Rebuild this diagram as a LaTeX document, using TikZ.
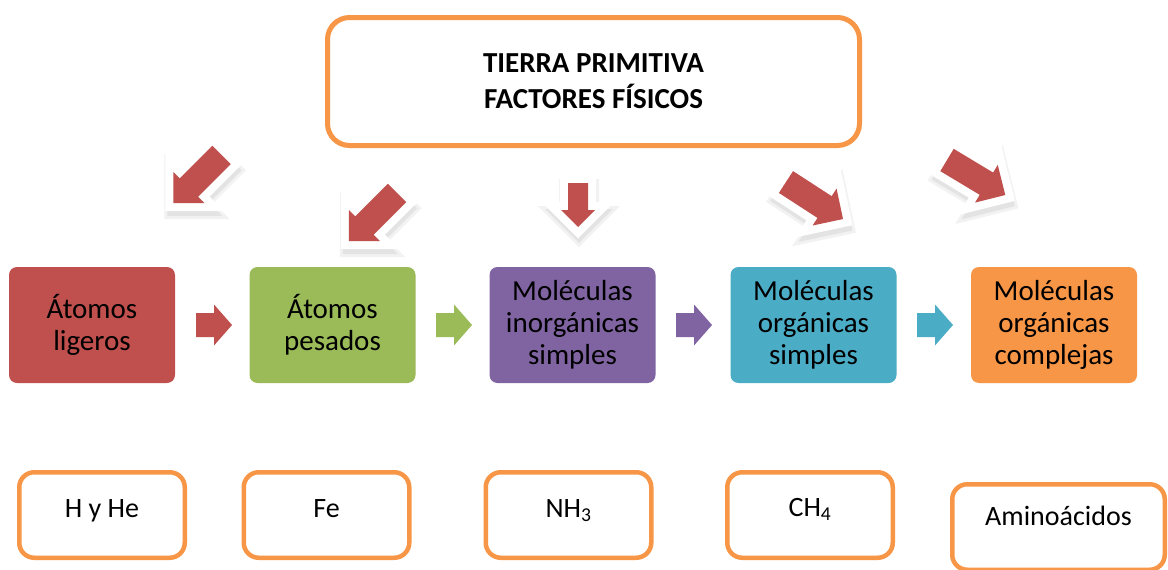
\documentclass[tikz,border=0pt]{standalone}
\usepackage{fontspec}
\setmainfont{Carlito}
\definecolor{cred}{HTML}{C0504D}
\definecolor{cgreen}{HTML}{9BBB59}
\definecolor{cpurple}{HTML}{8064A2}
\definecolor{ccyan}{HTML}{4BACC6}
\definecolor{corange}{HTML}{F79646}
% shape: #1 length, #2 shaft width, #3 head width, #4 head length
\newcommand\arrshape[4]{(0,{-#2/2}) -- ({#1-#4},{-#2/2}) -- ({#1-#4},{-#3/2}) -- (#1,0) -- ({#1-#4},{#3/2}) -- ({#1-#4},{#2/2}) -- (0,{#2/2}) -- cycle}
% #1 x, #2 y (px, down), #3 angle, #4..#7 shape
\newcommand\blockarr[7]{%
  \begin{scope}[shift={({#1+1},{-#2-6})},rotate=#3]
    \path[fill=black!5,draw=black!5,line width=20,line join=miter] \arrshape{#4}{#5}{#6}{#7};
    \path[fill=black!11,draw=black!11,line width=14,line join=miter] \arrshape{#4}{#5}{#6}{#7};
  \end{scope}
  \begin{scope}[shift={(#1,-#2)},rotate=#3]
    \path[fill=white,draw=white,line width=16,line join=miter] \arrshape{#4}{#5}{#6}{#7};
    \path[fill=cred] \arrshape{#4}{#5}{#6}{#7};
  \end{scope}}
\newcommand\smallarr[2]{%
  \begin{scope}[shift={(#1,-325)}]
    \path[fill=#2] \arrshape{36}{24}{41}{18};
  \end{scope}}
\tikzset{
  cbox/.style={rounded corners=8, minimum width=166, minimum height=116, inner sep=0,
    align=center, font=\fontsize{29}{32}\selectfont, text=black},
  obox/.style={draw=corange, line width=4.5, rounded corners=15, minimum width=165.5,
    minimum height=85.5, fill=white},
  otext/.style={font=\fontsize{28}{32}\selectfont, text=black, anchor=base, inner sep=0},
}
\begin{document}
\begin{tikzpicture}[x=1pt,y=1pt]
\useasboundingbox (0,0) rectangle (1168,-570);
\fill[white] (0,0) rectangle (1168,-570);

% top box
\node[draw=corange, line width=5, rounded corners=22, minimum width=532, minimum height=128,
  align=center, font=\fontsize{29}{36}\selectfont\bfseries] (top) at (593.5,-81.5)
  {TIERRA PRIMITIVA\\FACTORES FÍSICOS};

% big red arrows
\blockarr{221.5}{155}{-135}{68}{26}{44}{22}
\blockarr{397}{193}{-135}{68}{26}{44}{22}
\blockarr{578}{183}{-90}{44}{20}{34}{17}
\blockarr{786}{182}{-33}{68}{26}{44}{22}
\blockarr{947}{160}{-31}{68}{26}{44}{22}

% colored boxes
\node[cbox, fill=cred] (b1) at (92,-325) {Átomos\\ligeros};
\node[cbox, fill=cgreen] (b2) at (332.5,-325) {Átomos\\pesados};
\node[cbox, fill=cpurple] (b3) at (572.5,-325) {Moléculas\\inorgánicas\\simples};
\node[cbox, fill=ccyan] (b4) at (813.5,-325) {Moléculas\\orgánicas\\simples};
\node[cbox, fill=corange] (b5) at (1054,-325) {Moléculas\\orgánicas\\complejas};

% small arrows
\smallarr{196}{cred}
\smallarr{436}{cgreen}
\smallarr{676}{cpurple}
\smallarr{917}{ccyan}

% bottom boxes
\node[obox] (o1) at (102,-515) {};
\node[otext] (t1) at (o1.center |- 0,-517) {H y He};
\node[obox] (o2) at (326.5,-515) {};
\node[otext] (t2) at (o2.center |- 0,-517) {Fe};
\node[obox] (o3) at (568.5,-515) {};
\node[otext] (t3) at (o3.center |- 0,-517) {NH\textsubscript{3}};
\node[obox] (o4) at (810,-515) {};
\node[otext] (t4) at (o4.center |- 0,-516) {CH\textsubscript{4}};
\node[obox, minimum width=212.5] (o5) at (1058.5,-527) {};
\node[otext] (t5) at (o5.center |- 0,-525) {Aminoácidos};
\end{tikzpicture}
\end{document}
